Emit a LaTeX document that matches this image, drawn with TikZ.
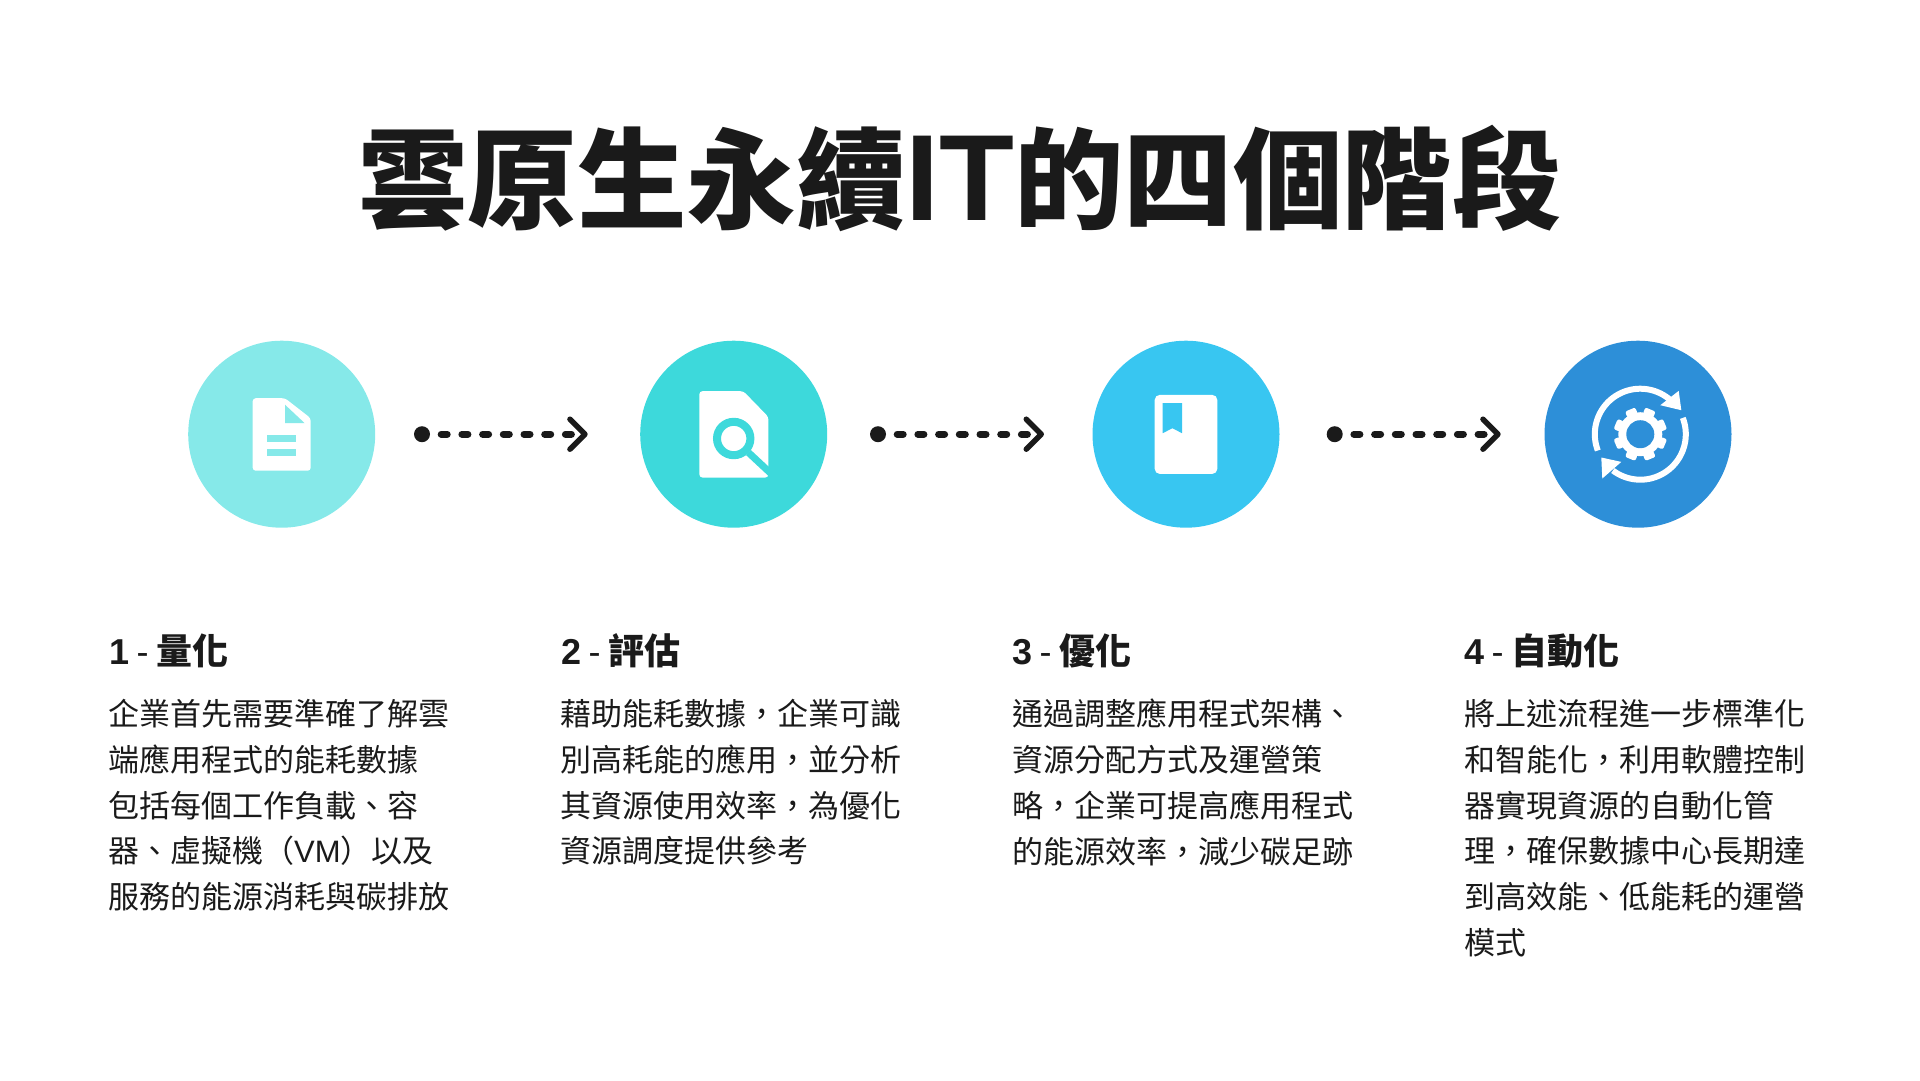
\documentclass[tikz,border=0pt]{standalone}
\usepackage{fontspec}
\setmainfont{Noto Sans CJK TC}
\newfontfamily\latfont{Liberation Sans}
\newfontfamily\titlelat[Scale=1.12]{Liberation Sans}
\usetikzlibrary{arrows.meta}
\definecolor{inkblack}{HTML}{1A1A1A}
\definecolor{stepa}{HTML}{86E9E9}
\definecolor{stepb}{HTML}{3DD9DB}
\definecolor{stepc}{HTML}{38C6F1}
\definecolor{stepd}{HTML}{2D8FD8}
\newcommand{\headline}[2]{{\latfont\bfseries #1}{\latfont\mdseries\hspace{7.5pt}-\hspace{7.5pt}}\bfseries #2}
\begin{document}
\begin{tikzpicture}[x=1pt,y=-1pt]
    \tikzstyle{disc}=[circle,minimum size=187pt,inner sep=0pt]
    \tikzstyle{dot}=[circle,fill=inkblack,minimum size=16pt,inner sep=0pt]
    \tikzstyle{flow}=[draw=inkblack,line width=7pt,line cap=round,dash pattern=on 6pt off 14.7pt,dash phase=9.7pt,-{Straight Barb[length=15pt,width=30pt,line width=5.5pt,round]}]
    \tikzstyle{heading}=[anchor=base west,inner sep=0pt,text=inkblack,font=\fontsize{36}{42}\selectfont]
    \tikzstyle{body}=[anchor=north west,inner sep=0pt,align=left,text=inkblack,font=\fontsize{31}{45.8}\selectfont]
    \useasboundingbox (0,0) rectangle (1920,1080);
    \node (title) at (960,178) [text=inkblack,inner sep=0pt,font=\fontsize{109.5}{120}\selectfont\bfseries] {雲原生永續{\titlelat IT}的四個階段};
    \node (c1) at (281.7,434.2) [disc,fill=stepa] {};
    \node (c2) at (733.7,434.2) [disc,fill=stepb] {};
    \node (c3) at (1186,434.2) [disc,fill=stepc] {};
    \node (c4) at (1638,434.2) [disc,fill=stepd] {};
    \begin{scope}[shift={(281.7,434.2)}]
      \fill[white,rounded corners=3pt] (-29,-36) -- (3.3,-36) -- (29,-16) -- (29,36.5) -- (-29,36.5) -- cycle;
      \fill[stepa] (3.3,-29.5) -- (3.3,-11) -- (23,-11) -- cycle;
      \fill[stepa] (-14.7,1) rectangle (14.3,7.5);
      \fill[stepa] (-14.7,15) rectangle (14.3,22);
    \end{scope}
    \begin{scope}[shift={(733.7,434.2)}]
      \fill[white,rounded corners=3pt] (-34.3,-43) -- (9.7,-43) -- (34.7,-17.3) -- (34.7,43.3) -- (-34.3,43.3) -- cycle;
      \draw[stepb,line width=8pt] (0,4.3) circle[radius=16.7pt];
      \draw[stepb,line width=7pt] (14.7,18.3) -- (38,40);
    \end{scope}
    \begin{scope}[shift={(1186,434.2)}]
      \fill[white,rounded corners=5pt] (-31.3,-39.3) rectangle (31.3,39.7);
      \fill[stepc] (-23.3,-31) -- (-4,-31) -- (-4,-1) -- (-13.6,-6) -- (-23.3,-1) -- cycle;
    \end{scope}
    \begin{scope}[shift={(1638,434.2)}]
      \fill[white] (2.3,0) circle[radius=22pt];
      \foreach \a in {0,45,...,315}
        \fill[white,rotate around={\a+22.5:(2.3,0)},rounded corners=2pt] (22.3,-5.5) rectangle (29,5.5);
      \fill[stepd] (2.3,0) circle[radius=14pt];
      \begin{scope}[shift={(2.3,0)}]
        \draw[white,line width=6pt] plot[domain=159:312,samples=40] (\x:45.5);
        \draw[white,line width=6pt] plot[domain=-21:127,samples=40] (\x:45.5);
      \end{scope}
      \fill[white] (40.7,-43.3) -- (43.3,-24) -- (22.3,-29) -- cycle;
      \fill[white] (-36.7,23.3) -- (-35.7,44.3) -- (-16.7,27.7) -- cycle;
    \end{scope}
    \node (d1) at (422,434.2) [dot] {};
    \node (d2) at (878,434.2) [dot] {};
    \node (d3) at (1334.7,434.2) [dot] {};
    \coordinate (e1) at (587.7,434.2);
    \coordinate (e2) at (1044,434.2);
    \coordinate (e3) at (1500.7,434.2);
    \draw[flow] (d1) -- (e1);
    \draw[flow] (d2) -- (e2);
    \draw[flow] (d3) -- (e3);
    \node (h1) at (109,664.5) [heading] {\headline{1}{量化}};
    \node (h2) at (561,664.5) [heading] {\headline{2}{評估}};
    \node (h3) at (1012,664.5) [heading] {\headline{3}{優化}};
    \node (h4) at (1464,664.5) [heading] {\headline{4}{自動化}};
    \node (b1) at (108,699) [body] {企業首先需要準確了解雲\\端應用程式的能耗數據\\包括每個工作負載、容\\器、虛擬機（{\latfont VM}）以及\\服務的能源消耗與碳排放};
    \node (b2) at (560,699) [body] {藉助能耗數據，企業可識\\別高耗能的應用，並分析\\其資源使用效率，為優化\\資源調度提供參考};
    \node (b3) at (1012,699) [body] {通過調整應用程式架構、\\資源分配方式及運營策\\略，企業可提高應用程式\\的能源效率，減少碳足跡};
    \node (b4) at (1464,699) [body] {將上述流程進一步標準化\\和智能化，利用軟體控制\\器實現資源的自動化管\\理，確保數據中心長期達\\到高效能、低能耗的運營\\模式};
  \end{tikzpicture}
\end{document}
